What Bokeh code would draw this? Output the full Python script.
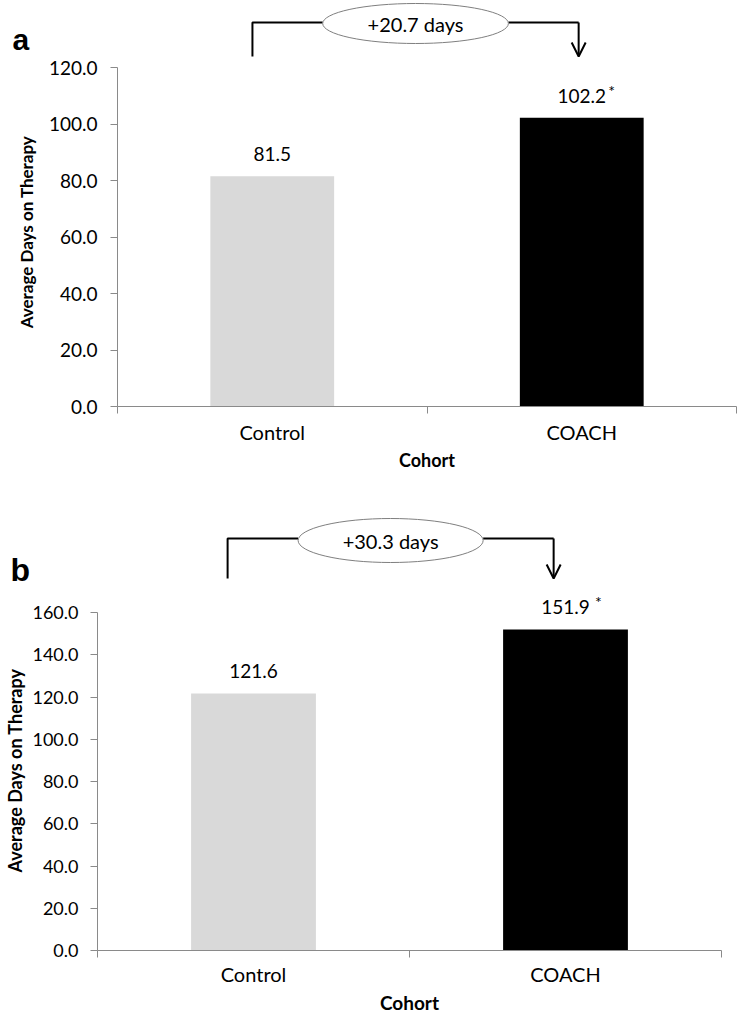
from bokeh.plotting import figure
from bokeh.models import Range1d, FixedTicker, NumeralTickFormatter, ColumnDataSource, Arrow, OpenHead
from bokeh.embed import file_html
from bokeh.resources import INLINE
from bokeh.core.properties import value

# ---------------- data ----------------
categories = ["Control", "COACH"]
days_a = [81.5, 102.2]
days_b = [121.6, 151.9]
significance = ["", "*"]
bar_colors = ["#d9d9d9", "#000000"]
y_ticks_a = [0, 20, 40, 60, 80, 100, 120]
y_ticks_b = [0, 20, 40, 60, 80, 100, 120, 140, 160]
diff_a = "+20.7 days"
diff_b = "+30.3 days"
x_title = "Cohort"
y_title = "Average Days on Therapy"

FONT = "Lato"
AXIS_GREY = "#8a8a8a"
W = 740
N = len(categories)
XS = [i + 0.5 for i in range(N)]


def main_panel(values, y_ticks, y_top, height, border_left, border_right, border_bottom,
               tick_size, tick_standoff, ylab_size, ylab_standoff, lab_dy, star_dx, star_dy,
               xlab_size, xl_standoff, xt_standoff):
    p = figure(width=W, height=height, x_range=Range1d(0, N), y_range=Range1d(0, y_top),
               output_backend="svg", toolbar_location=None,
               min_border_left=border_left, min_border_right=border_right,
               min_border_top=0, min_border_bottom=border_bottom)
    p.outline_line_color = None
    p.xgrid.visible = False
    p.ygrid.visible = False

    src = ColumnDataSource(dict(x=XS, top=values, color=bar_colors,
                                lab=["%.1f" % v for v in values], star=significance))
    p.vbar(x="x", top="top", width=0.4, bottom=0, fill_color="color", line_color=None, source=src)
    p.text(x="x", y="top", text="lab", source=src, text_align="center", text_baseline="alphabetic",
           y_offset=lab_dy, text_font=value(FONT), text_font_size="19px", text_color="#000000")
    p.text(x="x", y="top", text="star", source=src, text_align="center", text_baseline="alphabetic",
           x_offset=star_dx, y_offset=star_dy, text_font=value(FONT), text_font_size="16px",
           text_color="#000000")

    ya = p.yaxis[0]
    ya.ticker = FixedTicker(ticks=y_ticks)
    ya.bounds = (0, y_ticks[-1])
    ya.formatter = NumeralTickFormatter(format="0.0")
    ya.axis_line_color = AXIS_GREY
    ya.major_tick_line_color = AXIS_GREY
    ya.major_tick_in = 0
    ya.major_tick_out = 7
    ya.minor_tick_line_color = None
    ya.major_label_standoff = tick_standoff
    ya.major_label_text_font = FONT
    ya.major_label_text_font_size = tick_size
    ya.major_label_text_color = "#000000"
    ya.axis_label = y_title
    ya.axis_label_text_font = FONT
    ya.axis_label_text_font_style = "bold"
    ya.axis_label_text_font_size = ylab_size
    ya.axis_label_text_line_height = 1.0
    ya.axis_label_text_color = "#000000"
    ya.axis_label_standoff = ylab_standoff

    xa = p.xaxis[0]
    xa.ticker = FixedTicker(ticks=XS, minor_ticks=list(range(N + 1)))
    xa.major_label_overrides = {x: c for x, c in zip(XS, categories)}
    xa.axis_line_color = AXIS_GREY
    xa.major_tick_line_color = None
    xa.major_tick_in = 0
    xa.major_tick_out = 0
    xa.minor_tick_line_color = AXIS_GREY
    xa.minor_tick_in = 0
    xa.minor_tick_out = 7
    xa.major_label_standoff = xt_standoff
    xa.major_label_text_font = FONT
    xa.major_label_text_font_size = "20px"
    xa.major_label_text_line_height = 1.0
    xa.major_label_text_color = "#000000"
    xa.axis_label = x_title
    xa.axis_label_text_font = FONT
    xa.axis_label_text_font_style = "bold"
    xa.axis_label_text_font_size = xlab_size
    xa.axis_label_text_line_height = 1.0
    xa.axis_label_text_color = "#000000"
    xa.axis_label_standoff = xl_standoff
    return p


def top_strip(height, frame_left, frame_right, letter, letter_x, letter_y, letter_size,
              diff_text, dx_left, dx_right, line_y, foot_y, ell_w, ell_y, ell_h):
    ppu = (W - frame_left - frame_right) / N          # pixels per category unit of the main chart
    s = figure(width=W, height=height,
               x_range=Range1d(-frame_left / ppu, (W - frame_left) / ppu),
               y_range=Range1d(height, 0), x_axis_type=None, y_axis_type=None,
               output_backend="svg", toolbar_location=None, min_border=0)
    s.outline_line_color = None
    xl = XS[0] + dx_left
    xr = XS[1] + dx_right
    ex = (xl + xr) / 2
    s.line(x=[xl, xl, ex - ell_w / 2], y=[foot_y, line_y, line_y], line_color="#000000", line_width=2)
    s.line(x=[ex + ell_w / 2, xr], y=[line_y, line_y], line_color="#000000", line_width=2)
    s.add_layout(Arrow(end=OpenHead(size=14, line_width=2, line_color="#000000"),
                       x_start=xr, y_start=line_y, x_end=xr, y_end=foot_y,
                       line_color="#000000", line_width=2))
    s.ellipse(x=[ex], y=[ell_y], width=[ell_w], height=[ell_h], fill_color="#ffffff",
              line_color="#7f7f7f", line_width=1)
    s.text(x=[ex], y=[ell_y], text=[diff_text], text_align="center", text_baseline="middle",
           text_font=value(FONT), text_font_size="20px", text_color="#000000")
    s.text(x=[(letter_x - frame_left) / ppu], y=[letter_y], text=[letter], text_align="left",
           text_baseline="alphabetic", text_font=value("Liberation Sans"), text_font_style="bold",
           text_font_size=letter_size, text_color="#000000")
    return s


# panel a: strip 0..57, chart frame 57..406 (120 at 67), bottom border to 480
sa = top_strip(57, 117, 4, "a", 12, 39, "30px", diff_a, -0.064, -0.01, 22, 56, 0.60, 23, 40)
pa = main_panel(days_a, y_ticks_a, 120 * (406 - 57) / (406 - 67), 423, 117, 4, 74,
                "19px", 13, "17px", 9, -22, 30, -27, "18px", 2, 6)

# panel b: strip 480..590, chart frame 590..950 (160 at 612), bottom border to 1020
sb = top_strip(110, 97, 19, "b", 10, 89, "32px", diff_b, -0.083, -0.038, 58, 98, 0.593, 60, 44)
pb = main_panel(days_b, y_ticks_b, 160 * (950 - 590) / (950 - 612), 430, 97, 19, 70,
                "18px", 12, "18px", 3, -23, 33, -28, "19px", 2, 4)

open("out.html", "w").write(file_html([sa, pa, sb, pb], INLINE))
